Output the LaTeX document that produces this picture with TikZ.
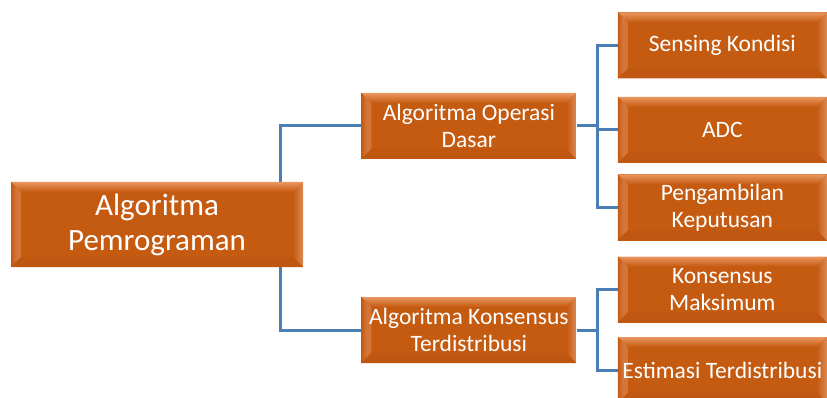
\documentclass[tikz,border=0pt]{standalone}
\usepackage{fontspec}
\setmainfont{Carlito}
\usepackage{tikz}
\usetikzlibrary{positioning, backgrounds, calc}
\definecolor{boxfill}{HTML}{C55A11}
\definecolor{bevtop}{HTML}{E9965F}
\definecolor{bevleft}{HTML}{D4763A}
\definecolor{bevright}{HTML}{DC8A55}
\definecolor{bevbottom}{HTML}{C05710}
\definecolor{linkblue}{HTML}{4A7EB4}
\tikzset{
	box/.style={rectangle, fill=boxfill, text=white, align=center, inner sep=0pt,
		path picture={
			\coordinate (nw) at (path picture bounding box.north west);
			\coordinate (ne) at (path picture bounding box.north east);
			\coordinate (sw) at (path picture bounding box.south west);
			\coordinate (se) at (path picture bounding box.south east);
			\shade[top color=bevtop, bottom color=boxfill] (nw) -- (ne) -- ([shift={(-10pt,-10pt)}]ne) -- ([shift={(10pt,-10pt)}]nw) -- cycle;
			\shade[left color=boxfill, right color=bevleft, middle color=bevleft] (nw) -- ([shift={(10pt,-10pt)}]nw) -- ([shift={(10pt,10pt)}]sw) -- (sw) -- cycle;
			\shade[left color=boxfill, right color=bevright] (ne) -- ([shift={(-10pt,-10pt)}]ne) -- ([shift={(-10pt,10pt)}]se) -- (se) -- cycle;
			\fill[bevbottom] (sw) -- ([shift={(10pt,10pt)}]sw) -- ([shift={(-10pt,10pt)}]se) -- (se) -- cycle;
		}},
	rootbox/.style={box, minimum width=292pt, minimum height=85pt, font=\fontsize{31}{35}\selectfont},
	midbox/.style={box, minimum width=215pt, minimum height=66pt, font=\fontsize{23.5}{27}\selectfont},
	leafbox/.style={box, minimum width=209pt, minimum height=66pt, font=\fontsize{23.5}{27}\selectfont},
	link/.style={draw=linkblue, line width=3pt},
}

\begin{document}
\begin{tikzpicture}[x=1pt, y=-1pt]
	\useasboundingbox (0,0) rectangle (827,398);

	\node[rootbox] (ROOT) at (157,224.5) {Algoritma\\Pemrograman};
	\node[midbox, right=58pt of ROOT, yshift=98.5pt] (OPR) {Algoritma Operasi\\Dasar};
	\node[midbox, right=58pt of ROOT, yshift=-105.5pt] (KONS) {Algoritma Konsensus\\Terdistribusi};

	\node[leafbox, right=41pt of OPR, yshift=80.5pt] (SENS) {Sensing Kondisi};
	\node[leafbox, right=41pt of OPR, yshift=-4pt] (ADC) {ADC};
	\node[leafbox, right=41pt of OPR, yshift=-81.5pt] (AMBIL) {Pengambilan\\Keputusan};
	\node[leafbox, right=41pt of KONS, yshift=40.5pt] (MAKS) {Konsensus\\Maksimum};
	\node[leafbox, right=41pt of KONS, yshift=-40pt] (EST) {Estimasi Terdistribusi};

	\begin{scope}[on background layer]
		\draw[link] (OPR.west) -| ([xshift=-23pt]ROOT.east);
		\draw[link] (KONS.west) -| ([xshift=-23pt]ROOT.east);
		\draw[link] (OPR.east) -- ([xshift=21pt]OPR.east) |- (SENS.west);
		\draw[link] ([xshift=21pt]OPR.east) |- (ADC.west);
		\draw[link] ([xshift=21pt]OPR.east) |- (AMBIL.west);
		\draw[link] (KONS.east) -- ([xshift=21pt]KONS.east) |- (MAKS.west);
		\draw[link] ([xshift=21pt]KONS.east) |- (EST.west);
	\end{scope}

\end{tikzpicture}
\end{document}
